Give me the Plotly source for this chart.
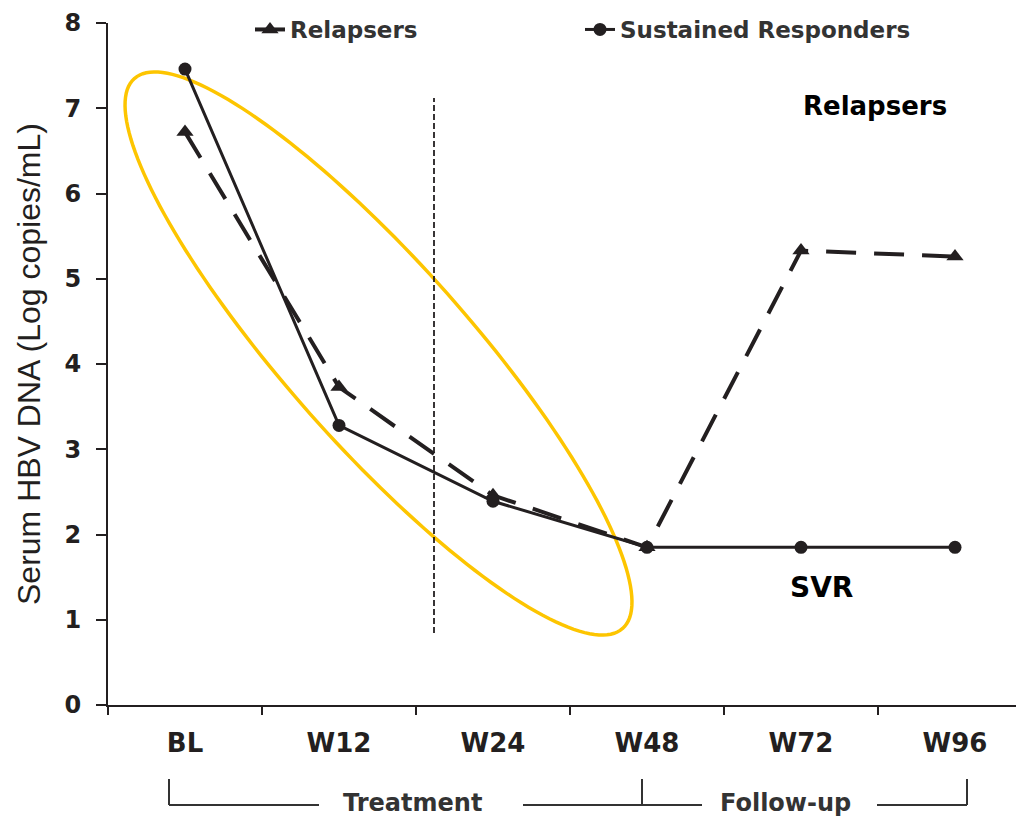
import numpy as np
import plotly.graph_objects as go

# ---------------- data ----------------
timepoints = ["BL", "W12", "W24", "W48", "W72", "W96"]
relapsers = [6.72, 3.73, 2.46, 1.85, 5.33, 5.26]
sustained = [7.46, 3.28, 2.39, 1.85, 1.85, 1.85]
y_ticks = [0, 1, 2, 3, 4, 5, 6, 7, 8]
y_title = "Serum HBV DNA (Log copies/mL)"
phase_labels = ["Treatment", "Follow-up"]

# ---------------- style / geometry ----------------
OFF = 8                      # page body margin of the html page
W, H = 1024 - OFF, 819 - OFF
# target screen pixel positions of the plot area
SX0, SX1, SY0, SY1 = 108, 1024, 23, 705
L, R, T, B = SX0 - OFF, 0, SY0 - OFF, H - (SY1 - OFF)
PW, PH = SX1 - SX0, SY1 - SY0
INK = "#231f20"
YEL = "#fdc500"
BOLD = "DejaVu Sans"


def px_x(px):
    return (px - SX0) / PW


def px_y(py):
    return (SY1 - py) / PH


def cx_(px):
    return (px - OFF) / W


def cy_(py):
    return 1 - (py - OFF) / H


fig = go.Figure()

fig.add_trace(go.Scatter(
    x=timepoints, y=relapsers, name="Relapsers", mode="lines+markers",
    line=dict(color=INK, width=4, dash="30px,18px"),
    marker=dict(symbol="triangle-up", size=15, color=INK),
    legend="legend", showlegend=True,
))
fig.add_trace(go.Scatter(
    x=timepoints, y=sustained, name="Sustained Responders", mode="lines+markers",
    line=dict(color=INK, width=3),
    marker=dict(symbol="circle", size=13, color=INK),
    legend="legend2", showlegend=True,
))

shapes = []
# highlight ellipse (pixel geometry -> paper coordinates)
ecx, ecy, a, b, th = 378.5, 353.5, 367.7, 91.2, np.deg2rad(48.4)
t = np.linspace(0, 2 * np.pi, 181)
ex = ecx + a * np.cos(t) * np.cos(th) - b * np.sin(t) * np.sin(th)
ey = ecy + a * np.cos(t) * np.sin(th) + b * np.sin(t) * np.cos(th)
path = "M " + " L ".join(f"{px_x(x):.5f},{px_y(y):.5f}" for x, y in zip(ex, ey)) + " Z"
shapes.append(dict(type="path", path=path, xref="paper", yref="paper",
                   line=dict(color=YEL, width=3.5), layer="below"))

# vertical dashed separator
shapes.append(dict(type="line", xref="paper", yref="paper",
                   x0=px_x(434), x1=px_x(434), y0=px_y(633), y1=px_y(98),
                   line=dict(color=INK, width=1.8, dash="6px,3px")))

# bracket under the axis
ytop, ybot = 779, 805
segs = [(169, 169, ytop, ybot), (169, 319, ybot, ybot), (523, 702, ybot, ybot),
        (642, 642, ytop, ybot), (877, 967, ybot, ybot), (967, 967, ytop, ybot)]
for x0, x1, y0, y1 in segs:
    shapes.append(dict(type="line", xref="paper", yref="paper",
                       x0=px_x(x0), x1=px_x(x1), y0=px_y(y0), y1=px_y(y1),
                       line=dict(color="#333333", width=2)))

ann_common = dict(xref="paper", yref="paper", showarrow=False,
                  xanchor="center", yanchor="middle")
annotations = [
    dict(text="Relapsers", x=px_x(875), y=px_y(106),
         font=dict(family=BOLD, size=26, color="black", weight=700), **ann_common),
    dict(text="SVR", x=px_x(821), y=px_y(587),
         font=dict(family=BOLD, size=28, color="black", weight=700), **ann_common),
    dict(text=phase_labels[0], x=px_x(412), y=px_y(803),
         font=dict(family=BOLD, size=24, color="#333333", weight=700), **ann_common),
    dict(text=phase_labels[1], x=px_x(785), y=px_y(803),
         font=dict(family=BOLD, size=24, color="#333333", weight=700), **ann_common),
]

legend_common = dict(
    orientation="h", xref="container", yref="container", yanchor="top",
    xanchor="left", font=dict(family=BOLD, size=23, color="#333333", weight=700),
    bgcolor="rgba(0,0,0,0)", borderwidth=0, visible=True,
)

fig.update_layout(
    width=W, height=H,
    margin=dict(l=L, r=R, t=T, b=B, autoexpand=False),
    paper_bgcolor="white", plot_bgcolor="white",
    showlegend=True,
    shapes=shapes, annotations=annotations,
    legend=dict(x=cx_(250), y=1.0, **legend_common),
    legend2=dict(x=cx_(580), y=1.0, **legend_common),
    xaxis=dict(
        type="category", categoryorder="array", categoryarray=timepoints,
        range=[-0.5, -0.5 + PW / 154.0], tickson="boundaries",
        showline=True, linecolor=INK, linewidth=2, showgrid=False, zeroline=False,
        ticks="outside", ticklen=8, tickwidth=2, tickcolor=INK,
        tickfont=dict(family=BOLD, size=26, color=INK, weight=700),
        ticklabelstandoff=14,
    ),
    yaxis=dict(
        range=[0, 8], tickvals=y_ticks, showline=True, linecolor=INK, linewidth=2,
        showgrid=False, zeroline=False, ticks="outside", ticklen=10, tickwidth=2,
        tickcolor=INK, tickfont=dict(family=BOLD, size=24, color=INK, weight=700),
        ticklabelstandoff=10,
        title=dict(text=y_title, standoff=14,
                   font=dict(family="Liberation Sans", size=32, color=INK)),
    ),
)

fig.write_html("out.html")
